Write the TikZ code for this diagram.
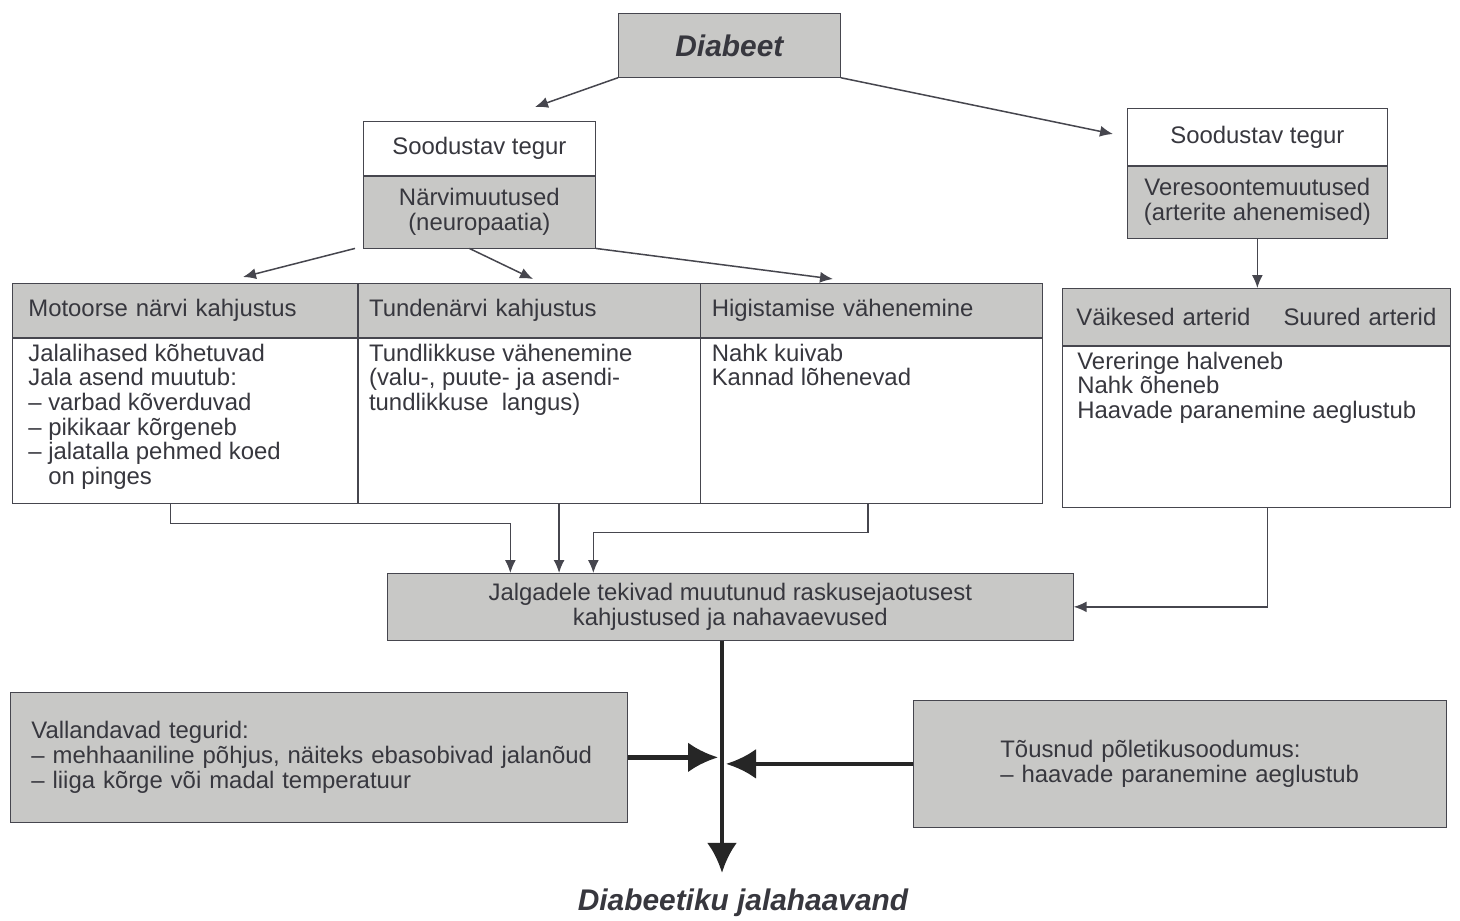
\documentclass[tikz,border=0pt]{standalone}
\usepackage{fontspec}
\setmainfont{Liberation Sans}
\usetikzlibrary{arrows.meta, positioning, calc}
\definecolor{boxgrey}{RGB}{200,200,198}
\definecolor{inkgrey}{RGB}{55,55,62}
\definecolor{linegrey}{RGB}{70,70,78}
\tikzstyle{every node}=[font=\fontsize{13.6}{14}\selectfont, text=inkgrey]
\tikzstyle{greybox}=[draw=linegrey, fill=boxgrey, rectangle, inner sep=0pt]
\tikzstyle{plainbox}=[draw=linegrey, fill=white, rectangle, inner sep=0pt]
\tikzstyle{cell}=[anchor=north west, align=left, inner ysep=0pt]
\tikzstyle{celltext}=[anchor=north west, align=left, inner ysep=1.2mm]
\tikzstyle{title}=[font=\fontsize{17}{20}\selectfont\bfseries\itshape]
\tikzstyle{link}=[draw=linegrey, line width=0.3mm, -{Latex[length=2.6mm,width=2.2mm]}]
\tikzstyle{bigarrow}=[draw=black!85, line width=0.9mm, -{Latex[length=6mm,width=6mm]}]

\begin{document}
\begin{tikzpicture}[x=0.2mm, y=-0.2mm]
  \useasboundingbox[fill=white] (0,0) rectangle (1460,920);

  \node[greybox, title, anchor=north west, minimum width=44.4mm, minimum height=12.8mm] (diabeet) at (618,13) {Diabeet};

  % soodustavad tegurid
  \node[plainbox, anchor=north west, minimum width=46.4mm, minimum height=10.8mm] (soodL) at (363,121) {Soodustav tegur};
  \node[greybox, below=0pt of soodL, minimum width=46.4mm, minimum height=14.4mm, align=center] (narv) {Närvimuutused\\(neuropaatia)};
  \node[plainbox, anchor=north west, minimum width=52mm, minimum height=11.4mm] (soodR) at (1127,108) {Soodustav tegur};
  \node[greybox, below=0pt of soodR, minimum width=52mm, minimum height=14.4mm, align=center] (veres) {Veresoontemuutused\\(arterite ahenemised)};

  % neuropaatia tabel
  \node[greybox, cell, text width=62.6mm, inner xsep=3.2mm, minimum height=10.8mm] (head1) at (12,283) {Motoorse närvi kahjustus};
  \node[greybox, cell, text width=64mm, inner xsep=2.2mm, minimum height=10.8mm, right=0pt of head1] (head2) {Tundenärvi kahjustus};
  \node[greybox, cell, text width=64mm, inner xsep=2.2mm, minimum height=10.8mm, right=0pt of head2] (head3) {Higistamise vähenemine};
  \node[plainbox, minimum width=69mm, minimum height=33mm, below=0pt of head1] (body1) {};
  \node[plainbox, minimum width=68.4mm, minimum height=33mm, below=0pt of head2] (body2) {};
  \node[plainbox, minimum width=68.4mm, minimum height=33mm, below=0pt of head3] (body3) {};
  \node[celltext, inner xsep=3.2mm] (text1) at (body1.north west) {Jalalihased kõhetuvad\\Jala asend muutub:\\– varbad kõverduvad\\– pikikaar kõrgeneb\\– jalatalla pehmed koed\\\phantom{– }on pinges};
  \node[celltext, inner xsep=2.2mm] (text2) at (body2.north west) {Tundlikkuse vähenemine\\(valu-, puute- ja asendi-\\tundlikkuse\ \ langus)};
  \node[celltext, inner xsep=2.2mm] (text3) at (body3.north west) {Nahk kuivab\\Kannad lõhenevad};

  % arterite tabel
  \node[greybox, cell, text width=72mm, inner xsep=2.8mm, minimum height=11.4mm] (headR) at (1062,288) {Väikesed arterid\hfill Suured arterid};
  \node[plainbox, minimum width=77.6mm, minimum height=32.2mm, below=0pt of headR] (bodyR) {};
  \node[celltext, inner xsep=3mm] (textR) at (bodyR.north west) {Vereringe halveneb\\Nahk õheneb\\Haavade paranemine aeglustub};

  \node[greybox, anchor=north west, minimum width=137.2mm, minimum height=13.4mm, align=center] (kahj) at (387,573) {Jalgadele tekivad muutunud raskusejaotusest\\kahjustused ja nahavaevused};

  \node[greybox, anchor=north west, text width=115mm, inner xsep=4.2mm, minimum height=26mm, align=left] (vall) at (10,692) {Vallandavad tegurid:\\– mehhaaniline põhjus, näiteks ebasobivad jalanõud\\– liiga kõrge või madal temperatuur};
  \node[greybox, anchor=north west, text width=71.8mm, inner xsep=17.4mm, minimum height=25.4mm, align=left] (poletik) at (913,700) {Tõusnud põletikusoodumus:\\– haavade paranemine aeglustub};

  \node[title] (haavand) at (743,903) {Diabeetiku jalahaavand};

  % noolte otsad
  \coordinate (toL) at (535,107);
  \coordinate (toR) at (1113,134);
  \coordinate (to1) at (243,277);
  \coordinate (to2) at (533,279);
  \coordinate (to3) at (833,279);
  \coordinate (axis) at (722,760);

  \draw[link] (diabeet.south west) -- (toL);
  \draw[link] (diabeet.south east) -- (toR);
  \draw[link] ([xshift=-1.6mm]narv.south west) -- (to1);
  \draw[link] ([xshift=-2mm]narv.south) -- (to2);
  \draw[link] (narv.south east) -- (to3);
  \draw[link] (veres.south) -- (veres.south |- headR.north);

  \draw[link] ([xshift=-2.9mm]body1.south) -- ++(0,20) -| ([xshift=-44mm]kahj.north);
  \draw[link] ([xshift=6mm]body2.south) -- ([xshift=6mm]body2.south |- kahj.north);
  \draw[link] ([xshift=-0.8mm]body3.south) -- ++(0,29) -| ([xshift=-27.4mm]kahj.north);
  \draw[link] ([xshift=2.2mm]bodyR.south) |- (kahj.east);

  \draw[bigarrow, shorten >=2mm] (kahj.south -| axis) -- (axis |- haavand.north);
  \draw[bigarrow] (vall.east) -- ([xshift=-0.8mm]vall.east -| axis);
  \draw[bigarrow] (poletik.west) -- ([xshift=0.8mm]poletik.west -| axis);
\end{tikzpicture}
\end{document}
